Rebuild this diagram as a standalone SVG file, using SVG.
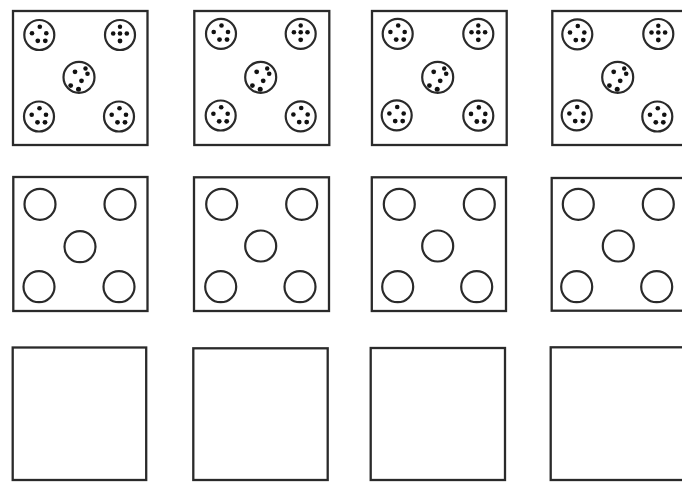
<svg xmlns="http://www.w3.org/2000/svg" xmlns:xlink="http://www.w3.org/1999/xlink" width="682" height="482" viewBox="0 0 682 482">
<style>
.box{fill:#fff;stroke:#2a2a2a;stroke-width:2.3}
.ring{fill:#fff;stroke:#2a2a2a;stroke-width:2.2}
.dot{fill:#111}
</style>
<defs>
<g id="p5">
<circle class="ring" r="15"/>
<circle class="dot" cx="0.5" cy="-8.3" r="2.3"/>
<circle class="dot" cx="-7.3" cy="-1.8" r="2.3"/>
<circle class="dot" cx="7" cy="-1.8" r="2.3"/>
<circle class="dot" cx="-1.5" cy="5.8" r="2.4"/>
<circle class="dot" cx="6" cy="5.8" r="2.4"/>
</g>
<g id="px">
<circle class="ring" r="15"/>
<circle class="dot" cx="0" cy="-8.3" r="2.2"/>
<circle class="dot" cx="-6.8" cy="-1.5" r="2.3"/>
<circle class="dot" cx="0" cy="-1.5" r="2.3"/>
<circle class="dot" cx="6.8" cy="-1.5" r="2.3"/>
<circle class="dot" cx="0" cy="6" r="2.4"/>
</g>
<g id="pm">
<circle class="ring" r="15.5"/>
<circle class="dot" cx="-4" cy="-5.5" r="2.4"/>
<circle class="dot" cx="6.5" cy="-8.8" r="2.2"/>
<circle class="dot" cx="8.5" cy="-3.5" r="2.3"/>
<circle class="dot" cx="2.5" cy="3.5" r="2.4"/>
<circle class="dot" cx="-8.3" cy="8.3" r="2.4"/>
<circle class="dot" cx="-0.5" cy="12" r="2.5"/>
</g>
<circle id="o" class="ring" r="15.5"/>
</defs>

<g id="row1">
<g id="d1">
<rect class="box" x="13" y="11" width="134.5" height="134"/>
<use xlink:href="#p5" x="39.3" y="35"/>
<use xlink:href="#px" x="120" y="35"/>
<use xlink:href="#pm" x="79" y="77.3"/>
<use xlink:href="#p5" x="39" y="116.5"/>
<use xlink:href="#p5" x="119" y="116.5"/>
</g>
<g id="d2">
<rect class="box" x="194.3" y="11" width="135" height="134"/>
<use xlink:href="#p5" x="221" y="33.8"/>
<use xlink:href="#px" x="300.7" y="33.8"/>
<use xlink:href="#pm" x="260.7" y="77.3"/>
<use xlink:href="#p5" x="220.7" y="115.5"/>
<use xlink:href="#p5" x="300.7" y="116.3"/>
</g>
<g id="d3">
<rect class="box" x="372" y="11" width="134.7" height="134"/>
<use xlink:href="#p5" x="397.7" y="33.8"/>
<use xlink:href="#px" x="478.3" y="33.8"/>
<use xlink:href="#pm" x="437.7" y="77.3"/>
<use xlink:href="#p5" x="396.7" y="115.3"/>
<use xlink:href="#p5" x="478.3" y="115.7"/>
</g>
<g id="d4">
<rect class="box" x="552.3" y="11" width="140" height="134"/>
<use xlink:href="#p5" x="577.3" y="34.3"/>
<use xlink:href="#px" x="658.3" y="34"/>
<use xlink:href="#pm" x="617.7" y="77.3"/>
<use xlink:href="#p5" x="576.7" y="115.3"/>
<use xlink:href="#p5" x="657.3" y="116.5"/>
</g>
</g>

<g id="row2">
<g id="e1">
<rect class="box" x="13.3" y="177" width="134.2" height="134"/>
<use xlink:href="#o" x="40" y="204.3"/>
<use xlink:href="#o" x="120" y="204.3"/>
<use xlink:href="#o" x="80" y="246.7"/>
<use xlink:href="#o" x="39" y="286.7"/>
<use xlink:href="#o" x="119" y="286.7"/>
</g>
<g id="e2">
<rect class="box" x="194" y="177.3" width="135" height="133.7"/>
<use xlink:href="#o" x="221.7" y="204.3"/>
<use xlink:href="#o" x="301.7" y="204.3"/>
<use xlink:href="#o" x="260.7" y="246"/>
<use xlink:href="#o" x="220.7" y="286.7"/>
<use xlink:href="#o" x="300" y="286.7"/>
</g>
<g id="e3">
<rect class="box" x="371.8" y="177.3" width="134.2" height="133.7"/>
<use xlink:href="#o" x="399.3" y="204.3"/>
<use xlink:href="#o" x="479.3" y="204.3"/>
<use xlink:href="#o" x="437.7" y="246"/>
<use xlink:href="#o" x="397.7" y="286.7"/>
<use xlink:href="#o" x="476.7" y="286.7"/>
</g>
<g id="e4">
<rect class="box" x="551.7" y="178" width="140" height="132.7"/>
<use xlink:href="#o" x="578.3" y="204.3"/>
<use xlink:href="#o" x="658.3" y="204.3"/>
<use xlink:href="#o" x="618.3" y="246"/>
<use xlink:href="#o" x="576.7" y="286.7"/>
<use xlink:href="#o" x="656.7" y="286.7"/>
</g>
</g>

<g id="row3">
<g id="f1"><rect class="box" x="12.7" y="347.5" width="133.5" height="132.5"/></g>
<g id="f2"><rect class="box" x="193.3" y="348.3" width="134.4" height="131.7"/></g>
<g id="f3"><rect class="box" x="370.7" y="348" width="134.3" height="132"/></g>
<g id="f4"><rect class="box" x="550.7" y="347.3" width="140" height="132.7"/></g>
</g>
</svg>
